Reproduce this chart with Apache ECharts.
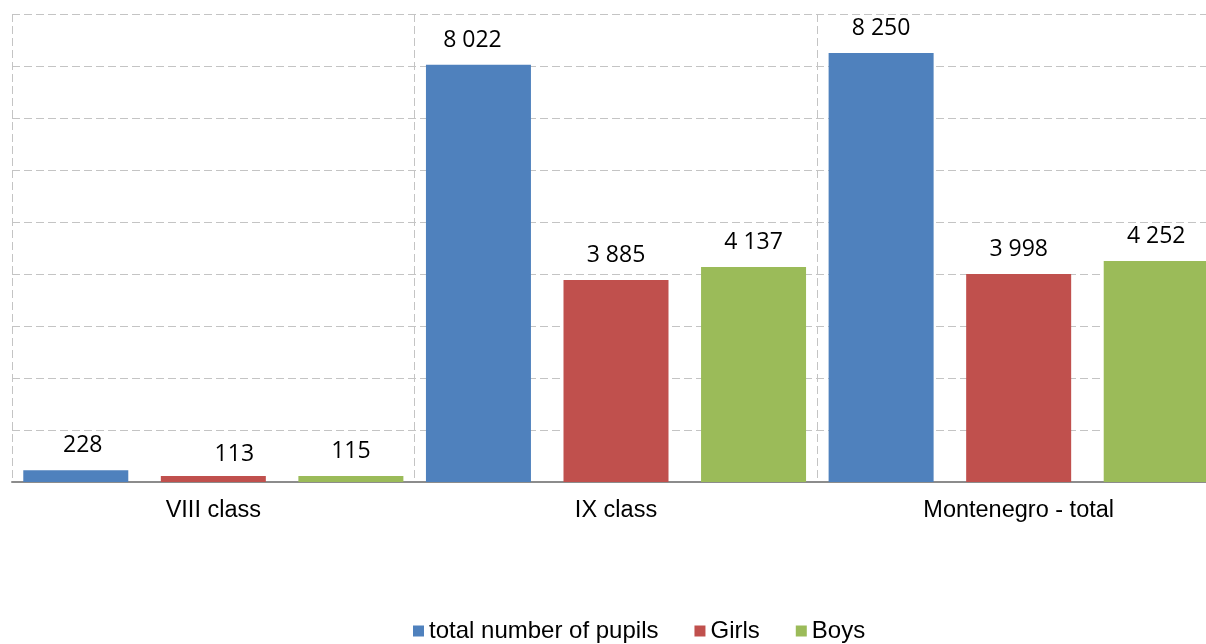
<!DOCTYPE html>
<html>
<head>
<meta charset="utf-8">
<script src="https://cdn.jsdelivr.net/npm/echarts@6/dist/echarts.min.js"></script>
<style>
html,body{margin:0;padding:0;background:#fff;}
#chart{width:1206px;height:644px;}
</style>
</head>
<body>
<div id="chart"></div>
<script>
const categories = ['VIII class', 'IX class', 'Montenegro - total'];
const seriesNames = ['total number of pupils', 'Girls', 'Boys'];
const totalPupils = [228, 8022, 8250];
const girls = [113, 3885, 3998];
const boys = [115, 4137, 4252];
const colors = ['#4F81BD', '#C0504D', '#9BBB59'];

const fmt = v => String(v).replace(/\B(?=(\d{3})+(?!\d))/g, ' ');

const chart = echarts.init(document.getElementById('chart'));
const labelStyle = {
  show: true,
  position: 'top',
  distance: 13,
  fontFamily: 'Open Sans',
  fontSize: 23,
  color: '#000',
  formatter: p => fmt(p.value)
};
function mkSeries(name, values, color, idx) {
  return {
    name: name,
    type: 'bar',
    barWidth: 105,
    barGap: '31%',
    itemStyle: { color: color },
    label: labelStyle,
    data: values.map((v, i) => {
      const d = { value: v };
      if (idx === 1 && i === 0) d.label = { offset: [21, 3] };
      if (idx === 0 && i === 0) d.label = { offset: [7, 0] };
      if (idx === 0 && i === 1) d.label = { offset: [-6, 0] };
      return d;
    })
  };
}
chart.setOption({
  animation: false,
  backgroundColor: '#fff',
  grid: { left: 12, top: 14, width: 1208, height: 468, containLabel: false, outerBoundsMode: 'none' },
  legend: {
    left: 413,
    top: 619,
    padding: 0,
    itemWidth: 11,
    itemHeight: 11,
    itemGap: 36,
    icon: 'rect',
    textStyle: { fontFamily: 'Liberation Sans', fontSize: 24, color: '#000' },
    data: seriesNames
  },
  xAxis: {
    type: 'category',
    data: categories,
    axisLine: { lineStyle: { color: '#8c8c8c', width: 2 } },
    axisTick: { show: false },
    axisLabel: { fontFamily: 'Liberation Sans', fontSize: 23.5, color: '#000', margin: 17 },
    splitLine: { show: true, lineStyle: { color: '#c4c4c4', type: [8, 4], width: 1 } }
  },
  yAxis: {
    type: 'value',
    min: 0,
    max: 9000,
    interval: 1000,
    axisLabel: { show: false },
    axisLine: { show: false },
    axisTick: { show: false },
    splitLine: { show: true, lineStyle: { color: '#c4c4c4', type: [8, 4], width: 1 } }
  },
  series: [
    mkSeries(seriesNames[0], totalPupils, colors[0], 0),
    mkSeries(seriesNames[1], girls, colors[1], 1),
    mkSeries(seriesNames[2], boys, colors[2], 2)
  ]
});
</script>
</body>
</html>
